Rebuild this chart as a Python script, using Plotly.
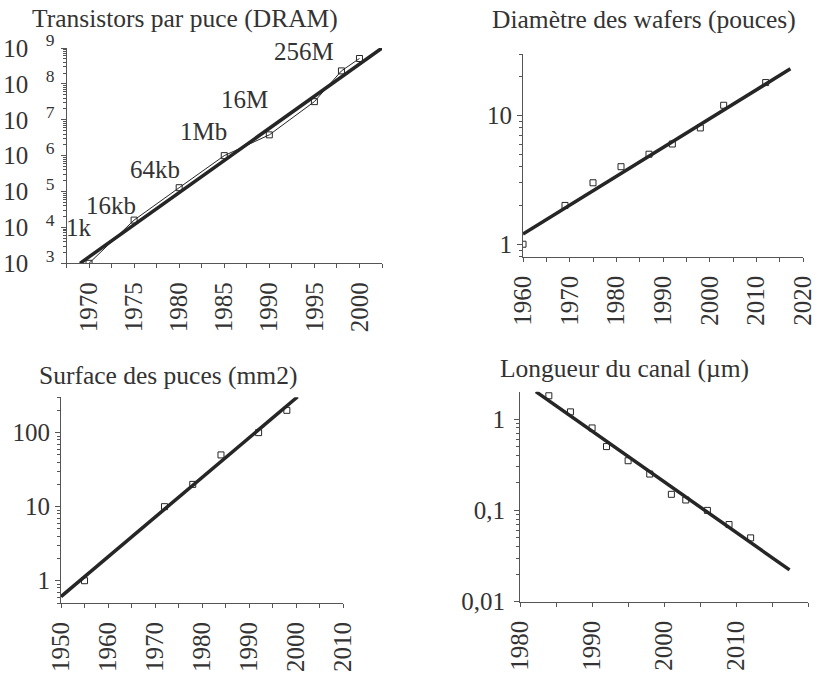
import numpy as np
import plotly.graph_objects as go

# --- Transistors par puce (DRAM)
dram_years = [1970, 1975, 1980, 1985, 1990, 1995, 1998, 2000]
dram_trans = [1e3, 1.6e4, 1.28e5, 1e6, 3.8e6, 3.2e7, 2.3e8, 5.1e8]
dram_fit_x = [1969, 2002.5]
dram_fit_y = [1e3, 1e9]
dram_labels = ["1k", "16kb", "64kb", "1Mb", "16M", "256M"]
dram_label_x = [1968.9, 1972.4, 1977.3, 1982.7, 1987.3, 1993.9]
dram_label_y = [1.0e4, 4.0e4, 4.0e5, 4.6e6, 3.6e7, 8.0e8]

# --- Diamètre des wafers (pouces)
wafer_years = [1960, 1969, 1975, 1981, 1987, 1992, 1998, 2003, 2012]
wafer_diam = [1, 2, 3, 4, 5, 6, 8, 12, 18]
wafer_fit_x = [1960, 2017.3]
wafer_fit_y = [1.2, 23]

# --- Surface des puces (mm2)
area_years = [1955, 1972, 1978, 1984, 1992, 1998]
area_mm2 = [1, 10, 20, 50, 100, 200]
area_fit_x = [1950, 2000.3]
area_fit_y = [0.61, 305]

# --- Longueur du canal (µm)
gate_years = [1984, 1987, 1990, 1992, 1995, 1998, 2001, 2003, 2006, 2009, 2012]
gate_um = [1.8, 1.2, 0.8, 0.5, 0.35, 0.25, 0.15, 0.13, 0.1, 0.07, 0.05]
gate_fit_x = [1982.2, 2017.4]
gate_fit_y = [2.0, 0.0223]

FONT = "Liberation Serif"
TXT = "#333333"
LINE = "#262626"
AX = "#555555"
W, H = 820, 678

fig = go.Figure()


def add_panel(n, xs, ys, fx, fy, connect=False):
    xa = "x" if n == 1 else f"x{n}"
    ya = "y" if n == 1 else f"y{n}"
    fig.add_trace(go.Scatter(x=fx, y=fy, mode="lines", xaxis=xa, yaxis=ya,
                             line=dict(color=LINE, width=3.5), hoverinfo="skip"))
    fig.add_trace(go.Scatter(x=xs, y=ys, mode="lines+markers" if connect else "markers",
                             xaxis=xa, yaxis=ya,
                             line=dict(color=LINE, width=1),
                             marker=dict(symbol="square-open", size=6, color=LINE,
                                         line=dict(width=1))))


add_panel(1, dram_years, dram_trans, dram_fit_x, dram_fit_y, connect=True)
add_panel(2, wafer_years, wafer_diam, wafer_fit_x, wafer_fit_y)
add_panel(3, area_years, area_mm2, area_fit_x, area_fit_y)
add_panel(4, gate_years, gate_um, gate_fit_x, gate_fit_y)


def px_dom(a, b, total):
    return [a / total, b / total]


def py_dom(top, bottom):
    return [1 - bottom / H, 1 - top / H]


common_x = dict(showline=True, linecolor=AX, linewidth=1, ticks="outside", ticklen=4,
                tickcolor=AX, tickangle=-90, showgrid=False, zeroline=False,
                automargin=False, ticklabelstandoff=4,
                tickfont=dict(family=FONT, size=25, color=TXT))
common_y = dict(type="log", showline=True, linecolor=AX, linewidth=1, ticks="outside",
                ticklen=5, tickcolor=AX, showgrid=False, zeroline=False,
                automargin=False,
                tickfont=dict(family=FONT, size=25, color=TXT),
                minor=dict(ticks="outside", ticklen=3, tickcolor=AX, dtick="D1",
                           showgrid=False))

fig.update_layout(
    width=W, height=H, margin=dict(l=0, r=0, t=0, b=0, autoexpand=False),
    font=dict(family=FONT, color=TXT),
    paper_bgcolor="white", plot_bgcolor="white", showlegend=False,
    xaxis=dict(common_x, domain=px_dom(66.5, 382, W), range=[1967.5, 2002.5],
               tickvals=[1970, 1975, 1980, 1985, 1990, 1995, 2000], anchor="y",
               minor=dict(ticks="outside", ticklen=4, tickcolor=AX, tick0=1967.5, dtick=2.5)),
    yaxis=dict(common_y, domain=py_dom(48, 263.3), range=[3, 9], anchor="x",
               ticklabelstandoff=1,
               tickvals=[1e3, 1e4, 1e5, 1e6, 1e7, 1e8, 1e9],
               ticktext=[f"10\u00a0\u00a0\u2009<sup>{k}</sup>" for k in range(3, 10)]),
    xaxis2=dict(common_x, domain=px_dom(523, 803, W), range=[1960, 2020], dtick=10,
                tick0=1960, anchor="y2",
                minor=dict(ticks="outside", ticklen=4, tickcolor=AX, dtick=5)),
    yaxis2=dict(common_y, domain=py_dom(54, 256.7), range=[np.log10(0.8), np.log10(30)],
                anchor="x2", tickvals=[1, 10], ticktext=["1", "10"]),
    xaxis3=dict(common_x, domain=px_dom(61, 343.3, W), range=[1950, 2010], dtick=10,
                tick0=1950, anchor="y3",
                minor=dict(ticks="outside", ticklen=4, tickcolor=AX, dtick=5)),
    yaxis3=dict(common_y, domain=py_dom(397.3, 603), range=[np.log10(0.5), np.log10(300)],
                anchor="x3", tickvals=[1, 10, 100], ticktext=["1", "10", "100"]),
    xaxis4=dict(common_x, domain=px_dom(520, 808.3, W), range=[1980, 2020], dtick=10,
                tick0=1980, anchor="y4",
                minor=dict(ticks="outside", ticklen=4, tickcolor=AX, dtick=5)),
    yaxis4=dict(common_y, domain=py_dom(391.7, 601.7), range=[-2, 0.3],
                anchor="x4", ticklabelstandoff=4,
                tickvals=[0.01, 0.1, 1], ticktext=["0,01", "0,1", "1"]),
)

titles = ["Transistors par puce (DRAM)", "Diamètre des wafers (pouces)",
          "Surface des puces (mm2)", "Longueur du canal (µm)"]
title_pos = [(185, 18), (644, 20), (168, 375), (624, 368)]
for t, (cx, cy) in zip(titles, title_pos):
    fig.add_annotation(text=t, xref="paper", yref="paper", x=cx / W, y=1 - cy / H,
                       xanchor="center", yanchor="middle", showarrow=False,
                       font=dict(family=FONT, size=25.5, color=TXT))

for lab, lx, ly in zip(dram_labels, dram_label_x, dram_label_y):
    fig.add_annotation(text=lab, x=lx, y=np.log10(ly), xref="x", yref="y",
                       showarrow=False, xanchor="center", yanchor="middle",
                       font=dict(family=FONT, size=25, color=TXT))

# the default 8px body margin would shift the whole figure
fig.write_html("out.html", config={"displayModeBar": False},
               post_script="document.body.style.margin='0';")
